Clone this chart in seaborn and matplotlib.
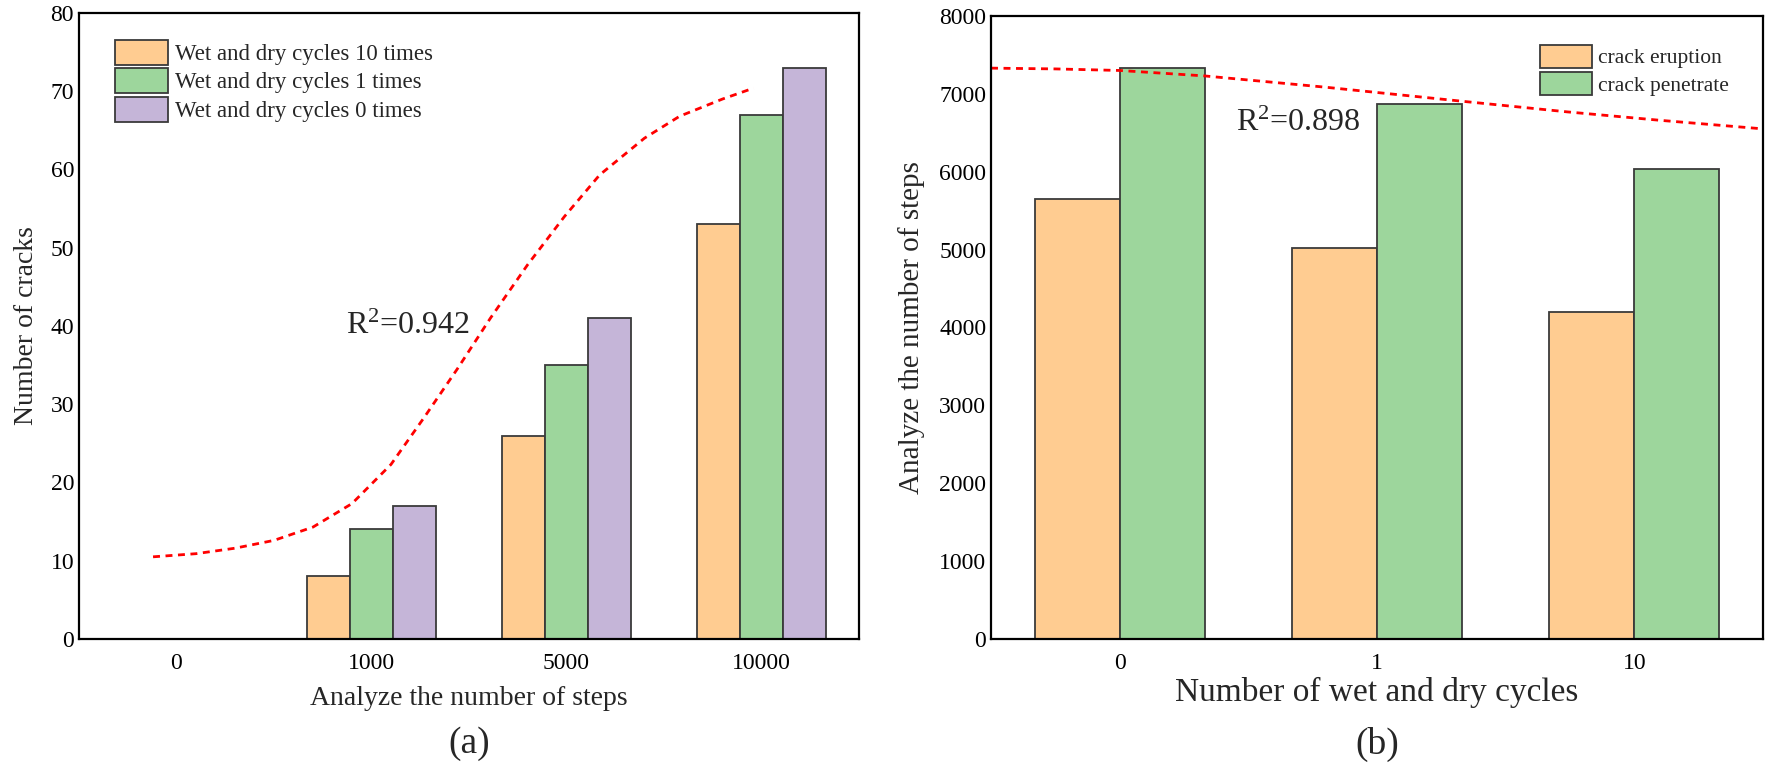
import pandas as pd
import numpy as np
import matplotlib
matplotlib.use("Agg")
import matplotlib.pyplot as plt
import seaborn as sns

# ---- data (a) ----
steps = ["0", "1000", "5000", "10000"]
cycle_labels = ["Wet and dry cycles 10 times",
                "Wet and dry cycles 1 times",
                "Wet and dry cycles 0 times"]
cracks_10 = [0, 8, 26, 53]
cracks_1 = [0, 14, 35, 67]
cracks_0 = [0, 17, 41, 73]

# fitted curve (a) (x in category units)
fit_a_x = [-0.12, 0.10, 0.30, 0.50, 0.70, 0.90, 1.10, 1.27, 1.44, 1.61,
           1.80, 1.99, 2.17, 2.40, 2.58, 2.80, 2.96]
fit_a_y = [10.5, 10.9, 11.6, 12.6, 14.3, 17.3, 22.3, 28.3, 34.5, 41.0,
           47.8, 54.0, 59.3, 64.0, 66.8, 69.0, 70.4]

# ---- data (b) ----
cycles = ["0", "1", "10"]
type_labels = ["crack eruption", "crack penetrate"]
eruption = [5650, 5020, 4200]
penetrate = [7330, 6870, 6040]

fit_b_x = [-0.5, -0.25, 0.0, 0.33, 0.8, 1.33, 1.74, 2.1, 2.5]
fit_b_y = [7330, 7320, 7300, 7230, 7085, 6905, 6768, 6660, 6550]

orange = "#FFCC91"
green = "#9DD69C"
purple = "#C5B5D8"

df_a = pd.DataFrame({
    "steps": steps * 3,
    "cracks": cracks_10 + cracks_1 + cracks_0,
    "cycle": [cycle_labels[0]] * 4 + [cycle_labels[1]] * 4 + [cycle_labels[2]] * 4,
})
df_b = pd.DataFrame({
    "cycles": cycles * 2,
    "steps": eruption + penetrate,
    "type": [type_labels[0]] * 3 + [type_labels[1]] * 3,
})

sns.set_style("white")
plt.rcParams["font.family"] = ["Liberation Serif", "DejaVu Serif"]
plt.rcParams["mathtext.fontset"] = "custom"
plt.rcParams["mathtext.rm"] = "Liberation Serif"
plt.rcParams["mathtext.it"] = "Liberation Serif:italic"

fig = plt.figure(figsize=(17.7, 7.67), dpi=100)
ax1 = fig.add_axes([0.0446, 0.1669, 0.4407, 0.8162])
ax2 = fig.add_axes([0.5599, 0.1669, 0.4362, 0.8123])

sns.barplot(
    data=df_a, x="steps", y="cracks", hue="cycle",
    order=steps, hue_order=cycle_labels,
    palette=[orange, green, purple], saturation=1,
    width=0.66, edgecolor="#3a3a3a", linewidth=1.3, ax=ax1
)
ax1.plot(fit_a_x, fit_a_y, color="red", linestyle=(0, (2.5, 2)), linewidth=2)
ax1.set_xlim(-0.5, 3.5)
ax1.set_ylim(0, 80)
ax1.set_yticks(range(0, 81, 10))
ax1.set_xlabel("Analyze the number of steps", fontsize=20, labelpad=9)
ax1.set_ylabel("Number of cracks", fontsize=20, labelpad=8)
ax1.text(0.87, 40, "R$^2$=0.942", fontsize=23, va="center", ha="left")
ax1.legend(loc="upper left", bbox_to_anchor=(0.035, 0.972), frameon=False,
           fontsize=16.5, handlelength=2.3, handleheight=1.3,
           labelspacing=0.15, handletextpad=0.3, borderaxespad=0)

sns.barplot(
    data=df_b, x="cycles", y="steps", hue="type",
    order=cycles, hue_order=type_labels,
    palette=[orange, green], saturation=1,
    width=0.66, edgecolor="#3a3a3a", linewidth=1.3, ax=ax2
)
ax2.plot(fit_b_x, fit_b_y, color="red", linestyle=(0, (2.5, 2)), linewidth=2)
ax2.set_xlim(-0.5, 2.5)
ax2.set_ylim(0, 8000)
ax2.set_yticks(range(0, 8001, 1000))
ax2.set_xlabel("Number of wet and dry cycles", fontsize=24, labelpad=2)
ax2.set_ylabel("Analyze the number of steps", fontsize=21, labelpad=10)
ax2.text(0.45, 6620, "R$^2$=0.898", fontsize=23, va="center", ha="left")
ax2.legend(loc="upper left", bbox_to_anchor=(0.70, 0.968), frameon=False,
           fontsize=15.5, handlelength=2.4, handleheight=1.3,
           labelspacing=0.15, handletextpad=0.3, borderaxespad=0)

for ax in (ax1, ax2):
    for sp in ax.spines.values():
        sp.set_visible(True)
        sp.set_color("black")
        sp.set_linewidth(1.6)
    ax.tick_params(axis="both", direction="in", length=7, width=1.5,
                   labelsize=17, colors="black")
    ax.tick_params(axis="x", length=0, pad=10)

fig.text(0.265, 0.03, "(a)", fontsize=27, ha="center", va="center")
fig.text(0.778, 0.03, "(b)", fontsize=27, ha="center", va="center")

fig.savefig("out.png", dpi=100)
